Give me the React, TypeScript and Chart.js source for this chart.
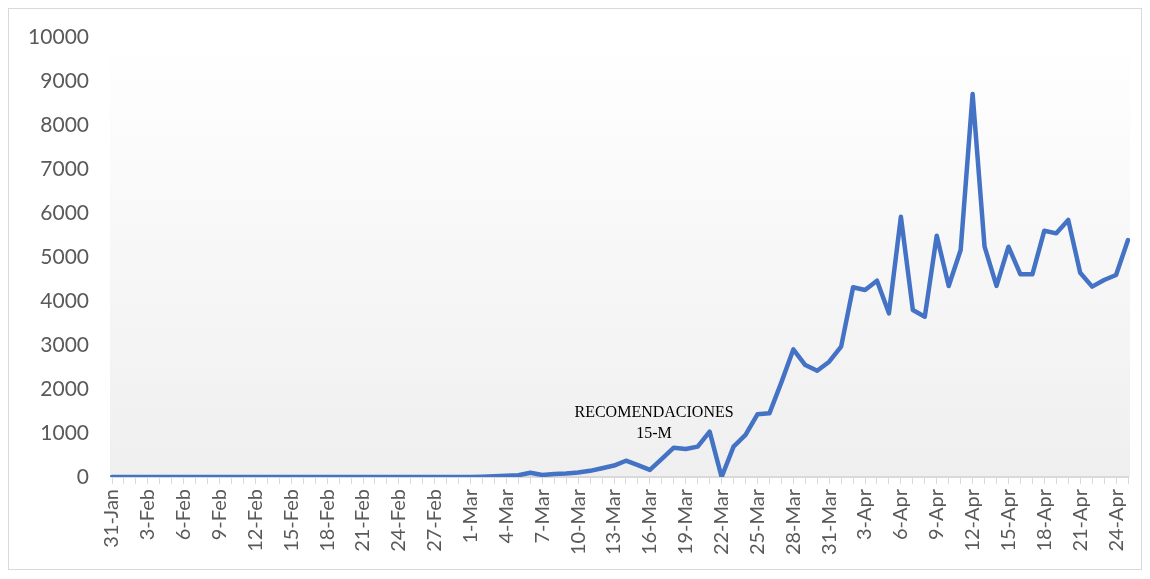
import React, { useEffect, useRef } from "react";
import { Chart, registerables } from "chart.js";

Chart.register(...registerables);

const dateLabels: string[] = [
  "31-Jan",
  "1-Feb", "2-Feb", "3-Feb", "4-Feb", "5-Feb", "6-Feb", "7-Feb", "8-Feb", "9-Feb", "10-Feb",
  "11-Feb", "12-Feb", "13-Feb", "14-Feb", "15-Feb", "16-Feb", "17-Feb", "18-Feb", "19-Feb", "20-Feb",
  "21-Feb", "22-Feb", "23-Feb", "24-Feb", "25-Feb", "26-Feb", "27-Feb", "28-Feb", "29-Feb",
  "1-Mar", "2-Mar", "3-Mar", "4-Mar", "5-Mar", "6-Mar", "7-Mar", "8-Mar", "9-Mar", "10-Mar",
  "11-Mar", "12-Mar", "13-Mar", "14-Mar", "15-Mar", "16-Mar", "17-Mar", "18-Mar", "19-Mar", "20-Mar",
  "21-Mar", "22-Mar", "23-Mar", "24-Mar", "25-Mar", "26-Mar", "27-Mar", "28-Mar", "29-Mar", "30-Mar", "31-Mar",
  "1-Apr", "2-Apr", "3-Apr", "4-Apr", "5-Apr", "6-Apr", "7-Apr", "8-Apr", "9-Apr", "10-Apr",
  "11-Apr", "12-Apr", "13-Apr", "14-Apr", "15-Apr", "16-Apr", "17-Apr", "18-Apr", "19-Apr", "20-Apr",
  "21-Apr", "22-Apr", "23-Apr", "24-Apr", "25-Apr",
];

const febValues: number[] = [
  0,
  0, 0, 0, 0, 0, 0, 0, 0, 0, 0,
  0, 0, 0, 0, 0, 0, 0, 0, 0, 0,
  0, 0, 0, 0, 0, 0, 0, 0, 0,
];

const marValues: number[] = [
  0, 5, 15, 30, 40, 98, 45, 70, 80, 100,
  140, 200, 260, 370, 270, 160, 410, 666, 636, 690,
  1030, 0, 690, 955, 1424, 1447, 2150, 2900, 2545, 2416, 2621,
];

const aprValues: number[] = [
  2962, 4311, 4250, 4462, 3720, 5916, 3795, 3643, 5485, 4341,
  5159, 8705, 5234, 4345, 5234, 4606, 4606, 5598, 5538, 5841,
  4644, 4326, 4477, 4591, 5386,
];

const dailyValues: number[] = [...febValues, ...marValues, ...aprValues];

const yTicks: number[] = [0, 1000, 2000, 3000, 4000, 5000, 6000, 7000, 8000, 9000, 10000];

const annotationLines: string[] = ["RECOMENDACIONES", "15-M"];
const annotationIndex = 45.35;
const annotationValues: number[] = [1460, 980];

const plotBackground = {
  id: "plotBackground",
  beforeDraw(chart: any) {
    const { ctx, chartArea } = chart;
    if (!chartArea) return;
    const g = ctx.createLinearGradient(0, chartArea.top, 0, chartArea.bottom);
    g.addColorStop(0, "#ffffff");
    g.addColorStop(1, "#efefef");
    ctx.save();
    ctx.fillStyle = g;
    ctx.fillRect(chartArea.left - 2, chartArea.top, chartArea.right - chartArea.left + 4, chartArea.bottom - chartArea.top);
    ctx.restore();
  },
};

const annotationPlugin = {
  id: "annotationText",
  afterDatasetsDraw(chart: any) {
    const { ctx, scales } = chart;
    const x = scales.x.getPixelForValue(annotationIndex);
    ctx.save();
    ctx.font = "16px 'Liberation Serif', 'Times New Roman', serif";
    ctx.fillStyle = "#000000";
    ctx.textAlign = "center";
    ctx.textBaseline = "middle";
    annotationLines.forEach((line, i) => {
      ctx.fillText(line, x, scales.y.getPixelForValue(annotationValues[i]));
    });
    ctx.restore();
  },
};

export default function App() {
  const canvasRef = useRef<HTMLCanvasElement | null>(null);

  useEffect(() => {
    if (!canvasRef.current) return;
    const chart = new Chart(canvasRef.current, {
      type: "line",
      data: {
        labels: dateLabels,
        datasets: [
          {
            data: dailyValues,
            borderColor: "#4472C4",
            borderWidth: 4.5,
            pointRadius: 0,
            tension: 0,
            fill: false,
            borderJoinStyle: "round",
            borderCapStyle: "round",
          },
        ],
      },
      options: {
        animation: false,
        responsive: true,
        maintainAspectRatio: false,
        layout: { padding: { top: 28, right: 13, bottom: 0, left: 0 } },
        plugins: {
          legend: { display: false },
          tooltip: { enabled: false },
        },
        scales: {
          x: {
            type: "category",
            offset: false,
            grid: {
              drawOnChartArea: false,
              drawTicks: true,
              tickLength: 7,
              color: "#d9d9d9",
              lineWidth: 1,
            },
            border: { display: true, color: "#d9d9d9", width: 2 },
            ticks: {
              autoSkip: false,
              maxRotation: 90,
              minRotation: 90,
              padding: 5,
              color: "#595959",
              font: { family: "Lato, 'Open Sans', sans-serif", size: 20 },
              callback: (_v: any, i: number) => (i % 3 === 0 ? dateLabels[i] : ""),
            },
            afterFit: (scale: any) => {
              scale.height = 92;
              scale.paddingLeft = 0;
              scale.paddingRight = 0;
              scale.paddingTop = 0;
              scale.paddingBottom = 0;
            },
          },
          y: {
            min: 0,
            max: 10000,
            afterBuildTicks: (scale: any) => {
              scale.ticks = yTicks.map((v) => ({ value: v }));
            },
            grid: { display: false, drawTicks: false },
            border: { display: false },
            ticks: {
              padding: 23,
              color: "#595959",
              font: { family: "Lato, 'Open Sans', sans-serif", size: 21 },
              callback: (v: any) => String(v),
            },
            afterFit: (scale: any) => {
              scale.width = 103;
              scale.paddingLeft = 0;
              scale.paddingRight = 0;
              scale.paddingTop = 0;
              scale.paddingBottom = 0;
            },
          },
        },
      },
      plugins: [plotBackground, annotationPlugin],
    });
    return () => chart.destroy();
  }, []);

  return (
    <div
      style={{
        width: 1134,
        height: 562,
        border: "1px solid #d9d9d9",
        boxSizing: "border-box",
        background: "#ffffff",
      }}
    >
      <div style={{ position: "relative", width: 1132, height: 560 }}>
        <canvas ref={canvasRef} />
      </div>
    </div>
  );
}
